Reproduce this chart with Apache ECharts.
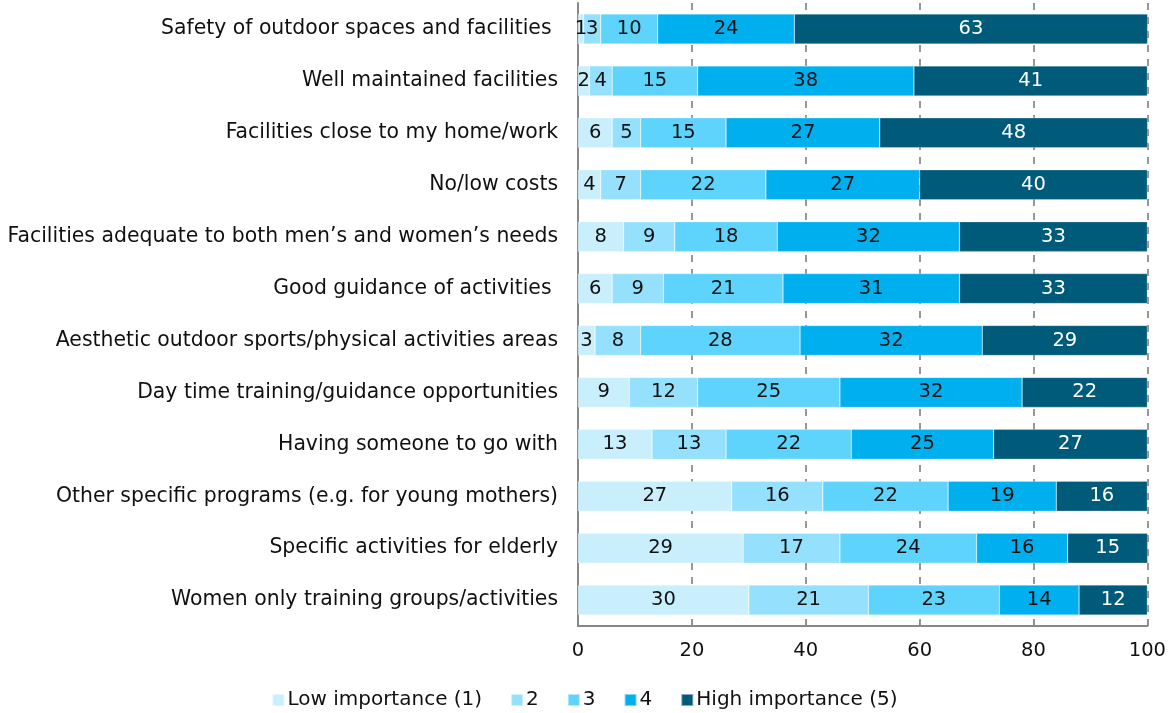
<!DOCTYPE html>
<html>
<head>
<meta charset="utf-8">
<script src="https://cdn.jsdelivr.net/npm/echarts@6/dist/echarts.min.js"></script>
<style>
  html, body { margin: 0; padding: 0; background: #fff; }
  #chart { width: 1169px; height: 713px; }
</style>
</head>
<body>
<div id="chart"></div>
<script>
// categories, top to bottom as in the picture
var categories = [
  'Safety of outdoor spaces and facilities ',
  'Well maintained facilities',
  'Facilities close to my home/work',
  'No/low costs',
  'Facilities adequate to both men\u2019s and women\u2019s needs',
  'Good guidance of activities ',
  'Aesthetic outdoor sports/physical activities areas',
  'Day time training/guidance opportunities',
  'Having someone to go with',
  'Other specific programs (e.g. for young mothers)',
  'Specific activities for elderly',
  'Women only training groups/activities'
];
var seriesNames = ['Low importance (1)', '2', '3', '4', 'High importance (5)'];
var low  = [1, 2, 6, 4, 8, 6, 3, 9, 13, 27, 29, 30];
var imp2 = [3, 4, 5, 7, 9, 9, 8, 12, 13, 16, 17, 21];
var imp3 = [10, 15, 15, 22, 18, 21, 28, 25, 22, 22, 24, 23];
var imp4 = [24, 38, 27, 27, 32, 31, 32, 32, 25, 19, 16, 14];
var high = [63, 41, 48, 40, 33, 33, 29, 22, 27, 16, 15, 12];
var xTicks = [0, 20, 40, 60, 80, 100];

var colors = ['#c9effd', '#95e0fc', '#5ed3fc', '#00b0ee', '#005a7a'];
var labelColors = ['#111', '#111', '#111', '#111', '#fff'];
var values = [low, imp2, imp3, imp4, high];

var font = 'DejaVu Sans';
var myChart = echarts.init(document.getElementById('chart'));

var series = [];
for (var i = 0; i < values.length; i++) {
  series.push({
    name: seriesNames[i],
    type: 'bar',
    stack: 'all',
    barWidth: 30,
    data: values[i],
    itemStyle: { color: colors[i], borderColor: 'rgba(255,255,255,0.5)', borderWidth: 0.5 },
    label: {
      show: true,
      position: 'inside',
      color: labelColors[i],
      fontFamily: font,
      fontSize: 19.5
    }
  });
}

var option = {
  animation: false,
  color: colors,
  grid: { left: 578, right: 21, top: 3, bottom: 87 },
  legend: {
    data: seriesNames,
    bottom: -2,
    left: 'center',
    itemWidth: 12,
    itemHeight: 12,
    itemGap: 28,
    icon: 'rect',
    textStyle: { fontFamily: font, fontSize: 20, color: '#111', padding: [0, 0, 0, -2] }
  },
  xAxis: {
    type: 'value',
    min: 0,
    max: 100,
    interval: 20,
    axisLine: { show: true, lineStyle: { color: '#888', width: 2 } },
    axisTick: { show: true, inside: true, length: 5, lineStyle: { color: '#888' } },
    splitLine: { show: true, lineStyle: { color: '#777', type: [7, 7], width: 1.5 } },
    axisLabel: {
      margin: 15,
      fontFamily: font,
      fontSize: 19.5,
      color: '#111',
      formatter: function (v) { return xTicks.indexOf(v) >= 0 ? String(v) : ''; }
    }
  },
  yAxis: {
    type: 'category',
    inverse: true,
    data: categories,
    axisLine: { show: true, lineStyle: { color: '#888', width: 2 } },
    axisTick: { show: false },
    axisLabel: { margin: 20, fontFamily: font, fontSize: 20.4, color: '#111' }
  },
  series: series
};
myChart.setOption(option);
</script>
</body>
</html>
